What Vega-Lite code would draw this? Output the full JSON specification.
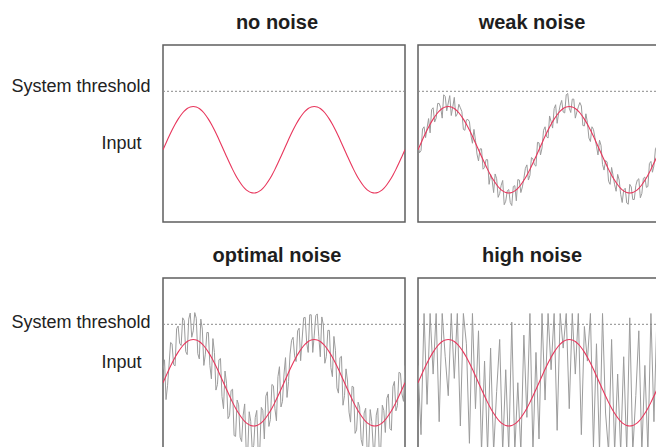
{
"$schema": "https://vega.github.io/schema/vega-lite/v6.json",
"padding": {"left": 10, "top": 12, "right": 0, "bottom": 0},
"background": "white",
"config": {
  "view": {"stroke": "#5f5f5f", "strokeWidth": 1.5},
  "title": {"font": "Liberation Sans", "fontSize": 20, "fontWeight": "bold", "color": "#1e1e1e", "offset": 12, "dx": -7},
  "axis": {"labelFont": "Liberation Sans", "labelFontSize": 18, "labelColor": "#222222"}
},
"datasets": {
"sine": [
{"k":0,"y":0},{"k":1,"y":0.156},{"k":2,"y":0.309},{"k":3,"y":0.454},{"k":4,"y":0.588},{"k":5,"y":0.707},{"k":6,"y":0.809},{"k":7,"y":0.891},{"k":8,"y":0.951},{"k":9,"y":0.988},
{"k":10,"y":1},{"k":11,"y":0.988},{"k":12,"y":0.951},{"k":13,"y":0.891},{"k":14,"y":0.809},{"k":15,"y":0.707},{"k":16,"y":0.588},{"k":17,"y":0.454},{"k":18,"y":0.309},{"k":19,"y":0.156},
{"k":20,"y":0},{"k":21,"y":-0.156},{"k":22,"y":-0.309},{"k":23,"y":-0.454},{"k":24,"y":-0.588},{"k":25,"y":-0.707},{"k":26,"y":-0.809},{"k":27,"y":-0.891},{"k":28,"y":-0.951},{"k":29,"y":-0.988},
{"k":30,"y":-1},{"k":31,"y":-0.988},{"k":32,"y":-0.951},{"k":33,"y":-0.891},{"k":34,"y":-0.809},{"k":35,"y":-0.707},{"k":36,"y":-0.588},{"k":37,"y":-0.454},{"k":38,"y":-0.309},{"k":39,"y":-0.156},
{"k":40,"y":0},{"k":41,"y":0.156},{"k":42,"y":0.309},{"k":43,"y":0.454},{"k":44,"y":0.588},{"k":45,"y":0.707},{"k":46,"y":0.809},{"k":47,"y":0.891},{"k":48,"y":0.951},{"k":49,"y":0.988},
{"k":50,"y":1},{"k":51,"y":0.988},{"k":52,"y":0.951},{"k":53,"y":0.891},{"k":54,"y":0.809},{"k":55,"y":0.707},{"k":56,"y":0.588},{"k":57,"y":0.454},{"k":58,"y":0.309},{"k":59,"y":0.156},
{"k":60,"y":0},{"k":61,"y":-0.156},{"k":62,"y":-0.309},{"k":63,"y":-0.454},{"k":64,"y":-0.588},{"k":65,"y":-0.707},{"k":66,"y":-0.809},{"k":67,"y":-0.891},{"k":68,"y":-0.951},{"k":69,"y":-0.988},
{"k":70,"y":-1},{"k":71,"y":-0.988},{"k":72,"y":-0.951},{"k":73,"y":-0.891},{"k":74,"y":-0.809},{"k":75,"y":-0.707},{"k":76,"y":-0.588},{"k":77,"y":-0.454},{"k":78,"y":-0.309},{"k":79,"y":-0.156},
{"k":80,"y":0}
],
"weak": [
{"k":0,"y":0.12},{"k":1,"y":-0.02},{"k":2,"y":0.53},{"k":3,"y":0.5},{"k":4,"y":0.39},{"k":5,"y":0.97},{"k":6,"y":0.73},{"k":7,"y":1.07},{"k":8,"y":0.73},{"k":9,"y":1.23},
{"k":10,"y":1.08},{"k":11,"y":0.79},{"k":12,"y":1.21},{"k":13,"y":0.83},{"k":14,"y":0.97},{"k":15,"y":0.47},{"k":16,"y":0.69},{"k":17,"y":0.65},{"k":18,"y":0.15},{"k":19,"y":0.22},
{"k":20,"y":-0.26},{"k":21,"y":0.02},{"k":22,"y":-0.41},{"k":23,"y":-0.23},{"k":24,"y":-0.57},{"k":25,"y":-0.99},{"k":26,"y":-0.67},{"k":27,"y":-1.01},{"k":28,"y":-0.71},{"k":29,"y":-1.19},
{"k":30,"y":-0.92},{"k":31,"y":-1.29},{"k":32,"y":-0.83},{"k":33,"y":-0.69},{"k":34,"y":-0.99},{"k":35,"y":-0.66},{"k":36,"y":-0.35},{"k":37,"y":-0.59},{"k":38,"y":-0.21},{"k":39,"y":-0.38},
{"k":40,"y":0.16},{"k":41,"y":0.04},{"k":42,"y":0.53},{"k":43,"y":0.27},{"k":44,"y":0.65},{"k":45,"y":0.95},{"k":46,"y":0.61},{"k":47,"y":1.03},{"k":48,"y":0.87},{"k":49,"y":1.27},
{"k":50,"y":0.96},{"k":51,"y":1.17},{"k":52,"y":0.73},{"k":53,"y":0.99},{"k":54,"y":1.01},{"k":55,"y":0.55},{"k":56,"y":0.63},{"k":57,"y":0.19},{"k":58,"y":0.47},{"k":59,"y":0.08},
{"k":60,"y":0.22},{"k":61,"y":-0.34},{"k":62,"y":-0.25},{"k":63,"y":-0.73},{"k":64,"y":-0.41},{"k":65,"y":-0.81},{"k":66,"y":-0.57},{"k":67,"y":-1.03},{"k":68,"y":-0.93},{"k":69,"y":-1.23},
{"k":70,"y":-0.8},{"k":71,"y":-1.15},{"k":72,"y":-0.83},{"k":73,"y":-0.67},{"k":74,"y":-1.01},{"k":75,"y":-0.63},{"k":76,"y":-0.85},{"k":77,"y":-0.27},{"k":78,"y":-0.37},{"k":79,"y":0.08},
{"k":80,"y":-0.1},
{"k":0.5,"y":-0.07},{"k":1.5,"y":0.48},{"k":2.5,"y":0.28},{"k":3.5,"y":0.72},{"k":4.5,"y":0.93},{"k":5.5,"y":0.64},{"k":6.5,"y":1.07},{"k":7.5,"y":0.97},{"k":8.5,"y":1.27},{"k":9.5,"y":0.9},
{"k":10.5,"y":1.25},{"k":11.5,"y":0.99},{"k":12.5,"y":0.77},{"k":13.5,"y":1.05},{"k":14.5,"y":0.88},{"k":15.5,"y":0.45},{"k":16.5,"y":0.7},{"k":17.5,"y":0.33},{"k":18.5,"y":0.47},{"k":19.5,"y":-0.1},
{"k":20.5,"y":0.02},{"k":21.5,"y":-0.45},{"k":22.5,"y":-0.23},{"k":23.5,"y":-0.8},{"k":24.5,"y":-0.7},{"k":25.5,"y":-0.56},{"k":26.5,"y":-1.1},{"k":27.5,"y":-0.82},{"k":28.5,"y":-1.27},{"k":29.5,"y":-0.95},
{"k":30.5,"y":-1.22},{"k":31.5,"y":-0.85},{"k":32.5,"y":-1.18},{"k":33.5,"y":-0.7},{"k":34.5,"y":-0.86},{"k":35.5,"y":-0.43},{"k":36.5,"y":-0.7},{"k":37.5,"y":-0.18},{"k":38.5,"y":-0.35},{"k":39.5,"y":0.17},
{"k":40.5,"y":-0.12},{"k":41.5,"y":0.45},{"k":42.5,"y":0.3},{"k":43.5,"y":0.78},{"k":44.5,"y":0.5},{"k":45.5,"y":1.04},{"k":46.5,"y":0.85},{"k":47.5,"y":1.14},{"k":48.5,"y":0.85},{"k":49.5,"y":1.3},
{"k":50.5,"y":0.86},{"k":51.5,"y":1.17},{"k":52.5,"y":0.87},{"k":53.5,"y":1.09},{"k":54.5,"y":0.56},{"k":55.5,"y":0.83},{"k":56.5,"y":0.27},{"k":57.5,"y":0.53},{"k":58.5,"y":0.28},{"k":59.5,"y":-0.12},
{"k":60.5,"y":0.1},{"k":61.5,"y":-0.47},{"k":62.5,"y":-0.28},{"k":63.5,"y":-0.8},{"k":64.5,"y":-0.6},{"k":65.5,"y":-0.96},{"k":66.5,"y":-0.7},{"k":67.5,"y":-1.22},{"k":68.5,"y":-0.89},{"k":69.5,"y":-1.26},
{"k":70.5,"y":-0.86},{"k":71.5,"y":-1.15},{"k":72.5,"y":-0.7},{"k":73.5,"y":-1.11},{"k":74.5,"y":-0.66},{"k":75.5,"y":-0.87},{"k":76.5,"y":-0.32},{"k":77.5,"y":-0.52},{"k":78.5,"y":0.02},{"k":79.5,"y":-0.2}
],
"optimal": [
{"k":0,"y":0.3},{"k":1,"y":-0.39},{"k":2,"y":0.41},{"k":3,"y":0.9},{"k":4,"y":0.39},{"k":5,"y":1.31},{"k":6,"y":0.86},{"k":7,"y":1.44},{"k":8,"y":0.65},{"k":9,"y":1.61},
{"k":10,"y":1.2},{"k":11,"y":1.49},{"k":12,"y":0.55},{"k":13,"y":1.24},{"k":14,"y":0.66},{"k":15,"y":1.16},{"k":16,"y":0.09},{"k":17,"y":0.7},{"k":18,"y":-0.04},{"k":19,"y":0.56},
{"k":20,"y":-0.6},{"k":21,"y":-0.01},{"k":22,"y":-0.76},{"k":23,"y":-0.15},{"k":24,"y":-1.24},{"k":25,"y":-0.51},{"k":26,"y":-1.36},{"k":27,"y":-0.49},{"k":28,"y":-1.65},{"k":29,"y":-0.89},
{"k":30,"y":-1.45},{"k":31,"y":-0.64},{"k":32,"y":-1.55},{"k":33,"y":-0.64},{"k":34,"y":-0.31},{"k":35,"y":-1.01},{"k":36,"y":-0.04},{"k":37,"y":-0.6},{"k":38,"y":0.14},{"k":39,"y":-0.56},
{"k":40,"y":0.2},{"k":41,"y":-0.34},{"k":42,"y":0.66},{"k":43,"y":1.05},{"k":44,"y":0.49},{"k":45,"y":1.26},{"k":46,"y":1.01},{"k":47,"y":1.51},{"k":48,"y":0.7},{"k":49,"y":1.57},
{"k":50,"y":1.1},{"k":51,"y":1.59},{"k":52,"y":0.6},{"k":53,"y":1.34},{"k":54,"y":0.61},{"k":55,"y":1.21},{"k":56,"y":0.14},{"k":57,"y":0.75},{"k":58,"y":-0.24},{"k":59,"y":0.61},
{"k":60,"y":-0.3},{"k":61,"y":0.04},{"k":62,"y":-0.91},{"k":63,"y":-0.1},{"k":64,"y":-1.09},{"k":65,"y":-0.56},{"k":66,"y":-1.46},{"k":67,"y":-0.59},{"k":68,"y":-1.55},{"k":69,"y":-0.89},
{"k":70,"y":-1.5},{"k":71,"y":-0.59},{"k":72,"y":-1.5},{"k":73,"y":-0.64},{"k":74,"y":-0.36},{"k":75,"y":-1.06},{"k":76,"y":-0.09},{"k":77,"y":-0.65},{"k":78,"y":0.24},{"k":79,"y":-0.26},
{"k":80,"y":0.4},
{"k":0.5,"y":0.53},{"k":1.5,"y":-0.07},{"k":2.5,"y":0.93},{"k":3.5,"y":0.42},{"k":4.5,"y":1.25},{"k":5.5,"y":0.91},{"k":6.5,"y":1.5},{"k":7.5,"y":0.72},{"k":8.5,"y":1.47},{"k":9.5,"y":1.05},
{"k":10.5,"y":1.62},{"k":11.5,"y":0.67},{"k":12.5,"y":1.47},{"k":13.5,"y":0.4},{"k":14.5,"y":1.16},{"k":15.5,"y":0.4},{"k":16.5,"y":1.02},{"k":17.5,"y":-0.17},{"k":18.5,"y":0.53},{"k":19.5,"y":-0.32},
{"k":20.5,"y":0.27},{"k":21.5,"y":-0.83},{"k":22.5,"y":-0.18},{"k":23.5,"y":-1.22},{"k":24.5,"y":-0.4},{"k":25.5,"y":-1.26},{"k":26.5,"y":-0.75},{"k":27.5,"y":-1.57},{"k":28.5,"y":-0.67},{"k":29.5,"y":-1.55},
{"k":30.5,"y":-0.8},{"k":31.5,"y":-1.67},{"k":32.5,"y":-0.57},{"k":33.5,"y":-1.3},{"k":34.5,"y":-0.21},{"k":35.5,"y":-0.85},{"k":36.5,"y":-0.07},{"k":37.5,"y":-0.88},{"k":38.5,"y":0.37},{"k":39.5,"y":-0.43},
{"k":40.5,"y":0.58},{"k":41.5,"y":0.03},{"k":42.5,"y":0.98},{"k":43.5,"y":0.62},{"k":44.5,"y":1.2},{"k":45.5,"y":0.51},{"k":46.5,"y":1.5},{"k":47.5,"y":0.92},{"k":48.5,"y":1.57},{"k":49.5,"y":0.7},
{"k":50.5,"y":1.55},{"k":51.5,"y":1.07},{"k":52.5,"y":1.52},{"k":53.5,"y":0.45},{"k":54.5,"y":1.21},{"k":55.5,"y":0.35},{"k":56.5,"y":1.07},{"k":57.5,"y":-0.12},{"k":58.5,"y":0.58},{"k":59.5,"y":-0.52},
{"k":60.5,"y":0.32},{"k":61.5,"y":-0.68},{"k":62.5,"y":-0.08},{"k":63.5,"y":-1.17},{"k":64.5,"y":-0.45},{"k":65.5,"y":-1.31},{"k":66.5,"y":-0.7},{"k":67.5,"y":-1.62},{"k":68.5,"y":-0.62},{"k":69.5,"y":-1.5},
{"k":70.5,"y":-0.75},{"k":71.5,"y":-1.62},{"k":72.5,"y":-0.52},{"k":73.5,"y":-1.15},{"k":74.5,"y":-0.26},{"k":75.5,"y":-1.1},{"k":76.5,"y":0.03},{"k":77.5,"y":-0.53},{"k":78.5,"y":0.22},{"k":79.5,"y":-0.43}
],
"high": [
{"k":0,"y":0.4},{"k":1,"y":-1.2},{"k":2,"y":1.6},{"k":3,"y":-0.5},{"k":4,"y":1.6},{"k":5,"y":0.2},{"k":6,"y":1.6},{"k":7,"y":-0.9},{"k":8,"y":1.6},{"k":9,"y":0.6},
{"k":10,"y":-0.3},{"k":11,"y":1.6},{"k":12,"y":0.1},{"k":13,"y":1.6},{"k":14,"y":-1.0},{"k":15,"y":1.6},{"k":16,"y":0.9},{"k":17,"y":-1.4},{"k":18,"y":1.6},{"k":19,"y":-0.6},
{"k":20,"y":1.2},{"k":21,"y":-1.6},{"k":22,"y":0.5},{"k":23,"y":-1.6},{"k":24,"y":0.8},{"k":25,"y":-1.6},{"k":26,"y":-0.2},{"k":27,"y":1.0},{"k":28,"y":-1.6},{"k":29,"y":0.3},
{"k":30,"y":-1.6},{"k":31,"y":1.4},{"k":32,"y":-1.6},{"k":33,"y":0.0},{"k":34,"y":-1.6},{"k":35,"y":1.1},{"k":36,"y":-0.8},{"k":37,"y":1.6},{"k":38,"y":-1.6},{"k":39,"y":0.7},
{"k":40,"y":-1.3},{"k":41,"y":1.6},{"k":42,"y":-0.4},{"k":43,"y":1.6},{"k":44,"y":0.3},{"k":45,"y":1.6},{"k":46,"y":-1.1},{"k":47,"y":1.6},{"k":48,"y":0.8},{"k":49,"y":1.6},
{"k":50,"y":-0.6},{"k":51,"y":1.6},{"k":52,"y":0.2},{"k":53,"y":1.6},{"k":54,"y":-1.2},{"k":55,"y":1.3},{"k":56,"y":0.5},{"k":57,"y":1.6},{"k":58,"y":-1.5},{"k":59,"y":0.9},
{"k":60,"y":-1.6},{"k":61,"y":1.6},{"k":62,"y":-0.7},{"k":63,"y":-1.6},{"k":64,"y":1.0},{"k":65,"y":-1.6},{"k":66,"y":0.2},{"k":67,"y":-1.6},{"k":68,"y":0.6},{"k":69,"y":-1.6},
{"k":70,"y":1.5},{"k":71,"y":-1.6},{"k":72,"y":-0.3},{"k":73,"y":1.2},{"k":74,"y":-1.6},{"k":75,"y":0.4},{"k":76,"y":-1.6},{"k":77,"y":1.6},{"k":78,"y":-0.9},{"k":79,"y":1.6},
{"k":80,"y":0.1}
],
"threshold": [{"t": 1.35}]
},
"spacing": 22,
"vconcat": [
 {"hconcat": [
  {"title": "no noise", "width": 242, "height": 177,
   "layer": [
    {"data": {"name": "sine"}, "mark": {"type": "line", "color": "#e8365c", "strokeWidth": 1.1, "interpolate": "monotone", "clip": true},
     "encoding": {
      "x": {"field": "k", "type": "quantitative", "scale": {"domain": [0, 80], "nice": false}, "axis": null},
      "y": {"field": "y", "type": "quantitative", "scale": {"domain": [-1.67, 2.42], "nice": false, "zero": false},
            "axis": {"values": [1.34, 0.03], "labelExpr": "datum.value > 1 ? 'System threshold' : 'Input'", "ticks": false, "domain": false, "grid": false, "title": null, "labelBaseline": "alphabetic", "labelPadding": {"condition": {"test": "datum.value > 1", "value": 13}, "value": 22}, "labelOverlap": false, "labelFlush": false, "labelBound": false}}}},
    {"data": {"name": "threshold"}, "mark": {"type": "rule", "color": "#8a8a8a", "strokeDash": [2, 2], "strokeWidth": 1},
     "encoding": {"y": {"field": "t", "type": "quantitative"}}}
   ]},
  {"title": "weak noise", "width": 242, "height": 177,
   "layer": [
    {"data": {"name": "weak"}, "mark": {"type": "line", "color": "#9c9c9c", "strokeWidth": 1, "clip": true},
     "encoding": {
      "x": {"field": "k", "type": "quantitative", "scale": {"domain": [0, 80], "nice": false}, "axis": null},
      "y": {"field": "y", "type": "quantitative", "scale": {"domain": [-1.67, 2.42], "nice": false, "zero": false}, "axis": null}}},
    {"data": {"name": "sine"}, "mark": {"type": "line", "color": "#e8365c", "strokeWidth": 1.1, "interpolate": "monotone", "clip": true},
     "encoding": {
      "x": {"field": "k", "type": "quantitative"},
      "y": {"field": "y", "type": "quantitative"}}},
    {"data": {"name": "threshold"}, "mark": {"type": "rule", "color": "#8a8a8a", "strokeDash": [2, 2], "strokeWidth": 1},
     "encoding": {"y": {"field": "t", "type": "quantitative"}}}
   ]}
 ], "spacing": 9},
 {"hconcat": [
  {"title": "optimal noise", "width": 242, "height": 177,
   "layer": [
    {"data": {"name": "optimal"}, "mark": {"type": "line", "color": "#9c9c9c", "strokeWidth": 1, "clip": true},
     "encoding": {
      "x": {"field": "k", "type": "quantitative", "scale": {"domain": [0, 80], "nice": false}, "axis": null},
      "y": {"field": "y", "type": "quantitative", "scale": {"domain": [-1.67, 2.42], "nice": false, "zero": false},
            "axis": {"values": [1.27, 0.35], "labelExpr": "datum.value > 1 ? 'System threshold' : 'Input'", "ticks": false, "domain": false, "grid": false, "title": null, "labelBaseline": "alphabetic", "labelPadding": {"condition": {"test": "datum.value > 1", "value": 13}, "value": 22}, "labelOverlap": false, "labelFlush": false, "labelBound": false}}}},
    {"data": {"name": "sine"}, "mark": {"type": "line", "color": "#e8365c", "strokeWidth": 1.1, "interpolate": "monotone", "clip": true},
     "encoding": {
      "x": {"field": "k", "type": "quantitative"},
      "y": {"field": "y", "type": "quantitative"}}},
    {"data": {"name": "threshold"}, "mark": {"type": "rule", "color": "#8a8a8a", "strokeDash": [2, 2], "strokeWidth": 1},
     "encoding": {"y": {"field": "t", "type": "quantitative"}}}
   ]},
  {"title": "high noise", "width": 242, "height": 177,
   "layer": [
    {"data": {"name": "high"}, "mark": {"type": "line", "color": "#9c9c9c", "strokeWidth": 1, "clip": true},
     "encoding": {
      "x": {"field": "k", "type": "quantitative", "scale": {"domain": [0, 80], "nice": false}, "axis": null},
      "y": {"field": "y", "type": "quantitative", "scale": {"domain": [-1.67, 2.42], "nice": false, "zero": false}, "axis": null}}},
    {"data": {"name": "sine"}, "mark": {"type": "line", "color": "#e8365c", "strokeWidth": 1.1, "interpolate": "monotone", "clip": true},
     "encoding": {
      "x": {"field": "k", "type": "quantitative"},
      "y": {"field": "y", "type": "quantitative"}}},
    {"data": {"name": "threshold"}, "mark": {"type": "rule", "color": "#8a8a8a", "strokeDash": [2, 2], "strokeWidth": 1},
     "encoding": {"y": {"field": "t", "type": "quantitative"}}}
   ]}
 ], "spacing": 9}
]
}
